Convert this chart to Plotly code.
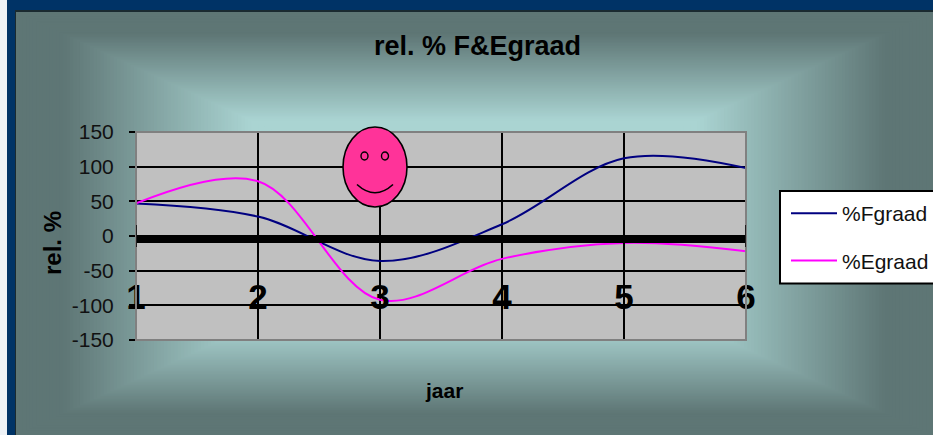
import plotly.graph_objects as go

years = [1, 2, 3, 4, 5, 6]
f_graad = [47, 28, -36, 17, 112, 98]
e_graad = [47, 79, -92, -33, -10, -22]
y_ticks = [-150, -100, -50, 0, 50, 100, 150]
y_tick_labels = ["-150", "-100", "-50", "0", "50", "100", "150"]
title_text = "rel. % F&Egraad"
x_title = "jaar"
y_title = "rel. %"

W, H = 933, 435
SANS = "Liberation Sans"
px = lambda v: v / W
py = lambda v: 1 - v / H


def rect(x0, y0, x1, y1, **kw):
    return dict(type="rect", xref="paper", yref="paper", x0=px(x0), x1=px(x1),
                y0=py(y1), y1=py(y0), **kw)


def oval(x0, y0, x1, y1, **kw):
    return dict(type="circle", xref="paper", yref="paper", x0=px(x0), x1=px(x1),
                y0=py(y1), y1=py(y0), **kw)


shapes = [
    rect(0, 0, W, H, fillcolor="#EEF2F6", line_width=0, layer="below"),
    rect(7, 0, W, H, fillcolor="#003366", line_width=0, layer="below"),
    rect(15, 10, W, H, fillcolor="#1A2A30", line_width=0, layer="below"),
]
# rectangular path gradient of the chart area
cx, cy = 474, 223
hw, hh = W - cx, H - cy
dark, light = (94, 118, 117), (170, 212, 210)
steps = 80
s_outer, s_ramp, s_light = 1.0, 0.90, 0.49
for i in range(steps):
    s = s_outer - (s_outer - 0.42) * i / (steps - 1)
    t = min(1, max(0, (s_ramp - s) / (s_ramp - s_light)))
    col = tuple(round(d + (l - d) * t) for d, l in zip(dark, light))
    x0 = max(cx - (cx - 16) * s, 16)
    y0 = max(cy - (cy - 12) * s, 12)
    shapes.append(rect(x0, y0, cx + hw * s, cy + hh * s,
                       fillcolor="rgb(%d,%d,%d)" % col, line_width=0, layer="below"))
# plot background
shapes.append(rect(136, 132, 746, 340, fillcolor="#C0C0C0", line_width=0, layer="below"))
# legend box
shapes.append(rect(780, 191, 940, 283.5, fillcolor="white",
                   line=dict(color="black", width=2), layer="below"))
# plot border
shapes.append(rect(136, 132, 746, 340, fillcolor="rgba(0,0,0,0)",
                   line=dict(color="#808080", width=2), layer="above"))
# x-axis tick stubs above the thick line at the ends
for x in (years[0], years[-1]):
    shapes.append(dict(type="line", xref="x", yref="paper", x0=x, x1=x,
                       y0=py(247), y1=py(225), line=dict(color="black", width=1.5),
                       layer="above"))
# smiley
shapes += [
    oval(343, 127, 407, 207, fillcolor="#FF3399", line=dict(color="black", width=1.6), layer="above"),
    oval(361, 152, 368, 160, fillcolor="#FF3399", line=dict(color="black", width=1.4), layer="above"),
    oval(381.5, 152, 388.5, 160, fillcolor="#FF3399", line=dict(color="black", width=1.4), layer="above"),
    dict(type="path", xref="paper", yref="paper", layer="above",
         path="M %f,%f Q %f,%f %f,%f" % (px(357), py(184.5), px(375), py(201), px(393), py(184.5)),
         line=dict(color="black", width=1.6)),
]

fig = go.Figure()
fig.add_trace(go.Scatter(x=years, y=f_graad, name="%Fgraad", mode="lines", legendgroup="f",
                         line=dict(color="#000080", width=2, shape="spline", smoothing=1)))
fig.add_trace(go.Scatter(x=years, y=e_graad, name="%Egraad", mode="lines", legendgroup="e",
                         line=dict(color="#FF00FF", width=2, shape="spline", smoothing=1)))

fig.update_layout(
    width=W, height=H, margin=dict(l=0, r=0, t=0, b=0, autoexpand=False), autosize=False,
    paper_bgcolor="#5E7675", plot_bgcolor="#C0C0C0",
    font=dict(family=SANS, color="black"),
    shapes=shapes,
    title=dict(text=title_text, x=477.5 / W, xanchor="center", y=py(46), yanchor="middle",
               font=dict(family=SANS, size=27, weight="bold", color="black")),
    annotations=[
        dict(text=x_title, xref="paper", yref="paper", x=px(444), y=py(390), showarrow=False,
             xanchor="center", yanchor="middle",
             font=dict(family=SANS, size=21, weight="bold", color="black")),
        dict(text=y_title, xref="paper", yref="paper", x=px(52), y=py(243), showarrow=False,
             xanchor="center", yanchor="middle", textangle=-90,
             font=dict(family=SANS, size=24, weight="bold", color="black")),
    ],
    xaxis=dict(
        domain=[px(136), px(746)], range=[1, 6], anchor="free", position=py(239.3),
        tickvals=years, ticks="outside", ticklen=8, tickwidth=1.5, tickcolor="black",
        showline=True, linecolor="black", linewidth=7,
        showgrid=True, gridcolor="black", gridwidth=1.5, zeroline=False,
        ticklabelstandoff=16,
        tickfont=dict(family=SANS, size=35, weight="bold", color="black"),
    ),
    yaxis=dict(
        domain=[py(340), py(132)], range=[-150, 150], anchor="free", position=px(136),
        tickvals=y_ticks, ticktext=y_tick_labels, ticks="outside", ticklen=6, tickwidth=2, tickcolor="black",
        showline=True, linecolor="black", linewidth=2,
        showgrid=True, gridcolor="black", gridwidth=1.5, zeroline=False,
        ticklabelstandoff=11,
        tickfont=dict(family=SANS, size=21, color="#111111"),
    ),
    legend=dict(x=px(786), xanchor="left", y=py(193), yanchor="top",
                bgcolor="rgba(0,0,0,0)", borderwidth=0, itemwidth=46,
                tracegroupgap=17, font=dict(family=SANS, size=21, color="#111111")),
)

fig.write_html("out.html", config=dict(displayModeBar=False),
               post_script="document.body.style.margin='0';document.body.style.overflow='hidden';")
